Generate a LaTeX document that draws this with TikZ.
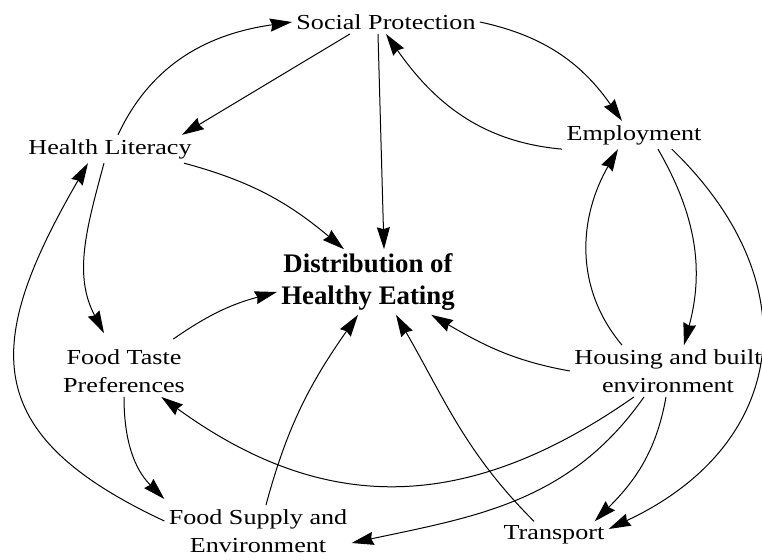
\documentclass[tikz,border=0pt]{standalone}
\usepackage{fontspec}
\setmainfont{Liberation Serif}
\newfontfamily\labelfont{Liberation Serif}[FakeStretch=1.22]
\usetikzlibrary{arrows.meta}

\begin{document}
\begin{tikzpicture}[x=0.5pt, y=0.5pt,
  >={Stealth[length=11pt,width=6.5pt,inset=1pt]},
  factor/.style={inner sep=2pt, align=center, font=\labelfont\fontsize{10.7}{14}\selectfont},
  outcome/.style={inner sep=2pt, align=center, font=\bfseries\fontsize{13.4}{16}\selectfont},
  link/.style={->, line width=0.5pt}]

\useasboundingbox (0,0) rectangle (762,559);

% Factors round the outcome
\node[factor] (sp) at (386,537) {Social Protection};
\node[factor] (hl) at (110,410) {Health Literacy};
\node[factor] (emp) at (634,424) {Employment};
\node[factor] (fts) at (124,188) {Food Taste\\Preferences};
\node[factor] (hbe) at (668,188) {Housing and built\\environment};
\node[factor] (fse) at (258,28) {Food Supply and\\Environment};
\node[factor] (tr) at (554,24) {Transport};
\node[outcome] (dhe) at (368,277) {Distribution of\\Healthy Eating};

% Upper links
\draw[link] ([xshift=4pt]hl.north) to[out=65,in=188] (sp.west);
\draw[link] ([xshift=-18pt]sp.south) -- ([xshift=-7pt]hl.north east);
\draw[link] ([xshift=-4pt]sp.south) -- ([xshift=8pt]dhe.north);
\draw[link] (emp.south west) to[out=175,in=-55] (sp.south);
\draw[link] (sp.east) to[out=-12,in=125] ([xshift=-6pt]emp.north);
\draw[link] ([xshift=-6pt]hl.south east) to[out=-15,in=140] ([xshift=-12pt]dhe.north);

% Left side
\draw[link] ([yshift=5pt]fse.west) to[out=155,in=240,looseness=1.45] ([xshift=-11pt]hl.south);
\draw[link] ([xshift=-3pt]hl.south) to[out=255,in=118] ([xshift=-10pt,yshift=6pt]fts.north);
\draw[link] ([xshift=-8pt,yshift=3pt]fts.north east) to[out=35,in=195] ([yshift=-5pt]dhe.west);
\draw[link] (fts.south) to[out=-90,in=135] ([yshift=3pt]fse.north west);
\draw[link] ([xshift=4pt]fse.north) to[out=75,in=235] ([xshift=-5pt]dhe.south);

% Right side
\draw[link] ([xshift=-10pt]tr.north) to[out=135,in=300] ([xshift=14pt]dhe.south);
\draw[link] (hbe.west) to[out=170,in=330] ([xshift=-14pt]dhe.south east);
\draw[link] ([xshift=-17pt]hbe.south) to[out=215,in=324,looseness=1.1] ([xshift=-14pt]fts.south east);
\draw[link] ([xshift=-12pt]hbe.south) to[out=235,in=12] ([yshift=-6pt]fse.east);
\draw[link] ([xshift=-1pt]hbe.south) to[out=260,in=45] ([xshift=-7pt]tr.north east);
\draw[link] ([xshift=12pt]emp.south) to[out=-60,in=75] ([xshift=8pt]hbe.north);
\draw[link] ([xshift=-23pt]hbe.north) to[out=130,in=240] ([xshift=-8pt]emp.south);
\draw[link] ([xshift=-17pt]emp.south east) to[out=-44,in=25,looseness=1.3] ([yshift=3pt]tr.east);

\end{tikzpicture}
\end{document}
